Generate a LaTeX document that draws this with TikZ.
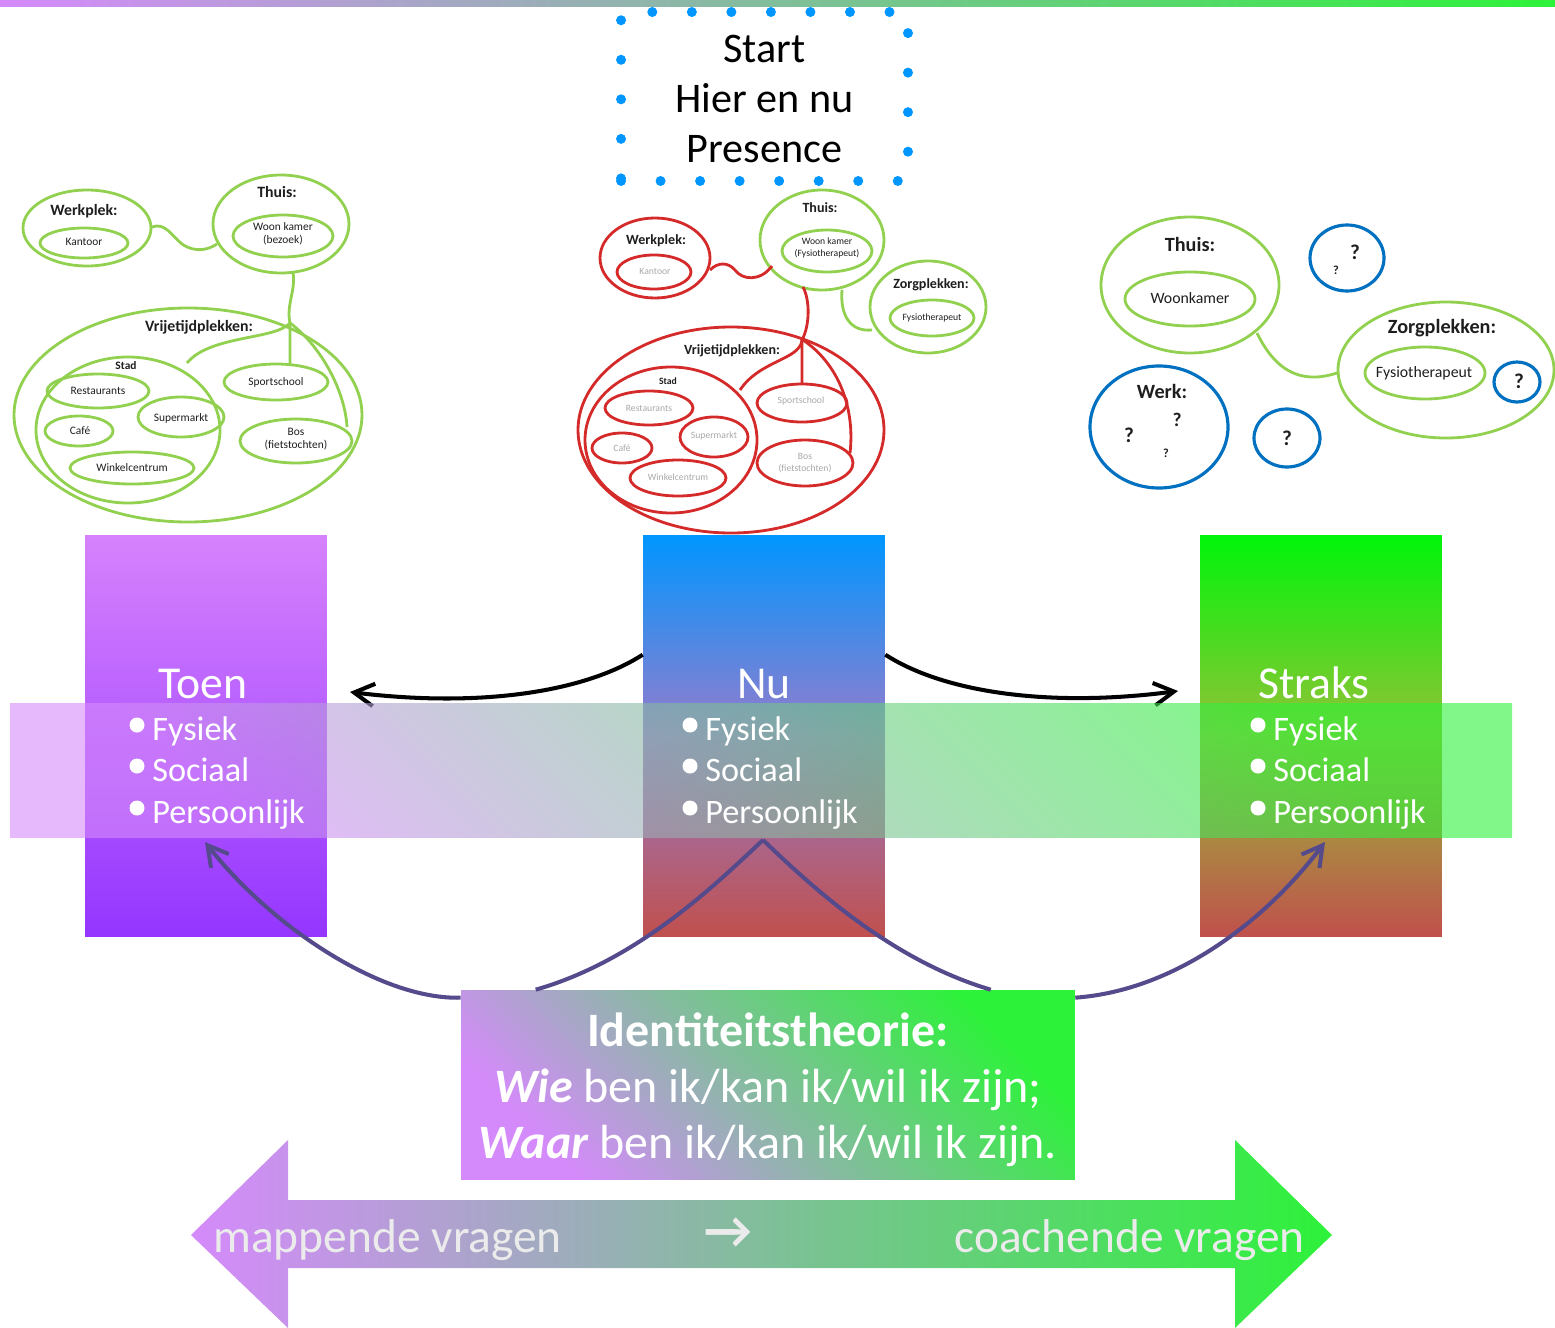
\documentclass[tikz,border=0pt]{standalone}
\usepackage{fontspec}
\setmainfont{Carlito}
\newfontfamily\arrowfont{DejaVu Sans}
\usetikzlibrary{calc, arrows.meta}

\begin{document}
\begin{tikzpicture}[x=0.02cm, y=-0.02cm,
    mapGreen/.style={draw=mapGreenColour, line width=1.6pt},
    mapRed/.style={draw=mapRedColour, line width=1.6pt},
    mapBlue/.style={draw=mapBlueColour, line width=1.8pt},
    mapLabel/.style={font=\fontsize{#1}{#1}\selectfont\bfseries, text=labelColour, inner sep=0pt},
    mapLabel/.default=9,
    mapText/.style={font=\fontsize{#1}{#1}\selectfont, text=labelColour, align=center, inner sep=0pt},
    mapText/.default=6.5,
    column/.style={minimum width=4.84cm, minimum height=8.04cm, inner sep=0pt},
    colTitle/.style={font=\fontsize{26}{31}\selectfont, text=white, anchor=base, inner sep=0pt},
    colItem/.style={font=\fontsize{19.5}{23}\selectfont, text=white, anchor=base west, inner sep=0pt},
    bigText/.style={font=\fontsize{27}{32}\selectfont, text=arrowTextColour, inner sep=0pt},
    flow/.style={line width=2.3pt, -{Straight Barb[length=4mm, width=4.5mm]}},
    link/.style={draw=linkColour, line width=2.3pt}]

    % Define colours
    \definecolor{purpleEnd}{HTML}{D58AFB}
    \definecolor{greenEnd}{HTML}{2DF23A}
    \definecolor{toenTop}{HTML}{D682FD}
    \definecolor{toenBottom}{HTML}{9436FF}
    \definecolor{nuTop}{HTML}{0096FF}
    \definecolor{nuMiddle}{RGB}{150,124,203}
    \definecolor{straksTop}{HTML}{00F50A}
    \definecolor{straksMiddle}{RGB}{149,193,55}
    \definecolor{warmBottom}{HTML}{C0504D}
    \definecolor{mapGreenColour}{HTML}{92D050}
    \definecolor{mapRedColour}{HTML}{D42A2A}
    \definecolor{mapBlueColour}{HTML}{0070C0}
    \definecolor{dotColour}{HTML}{0096FF}
    \definecolor{labelColour}{HTML}{1E1E1E}
    \definecolor{fadedColour}{HTML}{A8A8A8}
    \definecolor{linkColour}{HTML}{554A8C}
    \definecolor{arrowTextColour}{HTML}{EBEBEB}

    % Fix the canvas
    \useasboundingbox (0,0) rectangle (1555,1328);

    % Top bar
    \shade[left color=purpleEnd, right color=greenEnd] (0,0) rectangle (1555,7);

    % Start box
    \node[draw=dotColour, line width=5.7pt, line cap=round, dash pattern=on 0pt off 22.5pt,
          minimum width=5.74cm, minimum height=3.38cm, align=center,
          font=\fontsize{24}{28.5}\selectfont] (start) at (764.5,96.5) {};
    \node[align=center, font=\fontsize{24}{28.5}\selectfont] (startText) at (764.5,99)
          {Start\\Hier en nu\\Presence};

    % Map: toen
    \draw[mapGreen] (87,228) ellipse [x radius=64, y radius=38];
    \draw[mapGreen] (84,243) ellipse [x radius=44, y radius=15];
    \draw[mapGreen] (281,224) ellipse [x radius=68, y radius=49];
    \draw[mapGreen] (283,236) ellipse [x radius=50, y radius=21];
    \draw[mapGreen] (188,415) ellipse [x radius=174, y radius=107];
    \draw[mapGreen] (128,430) ellipse [x radius=92, y radius=73];
    \draw[mapGreen] (98,391) ellipse [x radius=51, y radius=17];
    \draw[mapGreen] (181,417) ellipse [x radius=43, y radius=20];
    \draw[mapGreen] (79,431) ellipse [x radius=34, y radius=15];
    \draw[mapGreen] (132,468) ellipse [x radius=62, y radius=16];
    \draw[mapGreen] (276,382) ellipse [x radius=52, y radius=18];
    \draw[mapGreen] (296,441) ellipse [x radius=56, y radius=22];
    \draw[mapGreen] (152,227) .. controls (165,222) and (172,236) .. (182,244)
        .. controls (195,253) and (208,250) .. (217,244);
    \draw[mapGreen] (293,273) .. controls (296,290) and (286,305) .. (290,323) -- (290,365);
    \draw[mapGreen] (290,323) .. controls (275,340) and (210,335) .. (187,363);
    \draw[mapGreen] (290,323) .. controls (320,345) and (345,390) .. (347,427);

    \node[mapLabel] (leftWerk) at (84,211) {Werkplek:};
    \node[mapText] (leftKantoor) at (84,242) {Kantoor};
    \node[mapLabel] (leftThuis) at (277,192) {Thuis:};
    \node[mapText] (leftWoon) at (283,234) {Woon kamer\\[1pt](bezoek)};
    \node[mapLabel] (leftVrij) at (199,327) {Vrijetijdplekken:};
    \node[mapLabel=6.5] (leftStad) at (126,366) {Stad};
    \node[mapText] (leftRest) at (98,391) {Restaurants};
    \node[mapText] (leftSuper) at (181,418) {Supermarkt};
    \node[mapText] (leftCafe) at (80,431) {Café};
    \node[mapText] (leftWinkel) at (132,468) {Winkelcentrum};
    \node[mapText] (leftSport) at (276,382) {Sportschool};
    \node[mapText] (leftBos) at (296,439) {Bos\\[1pt](fietstochten)};

    % Map: nu
    \draw[mapRed] (655,258) ellipse [x radius=55, y radius=40];
    \draw[mapRed] (654,272) ellipse [x radius=37, y radius=17];
    \draw[mapGreen] (822,240) ellipse [x radius=62, y radius=50];
    \draw[mapGreen] (827,251) ellipse [x radius=45, y radius=21];
    \draw[mapGreen] (928,307) ellipse [x radius=58, y radius=46];
    \draw[mapGreen] (932,318) ellipse [x radius=42, y radius=18];
    \draw[mapRed] (731,430) ellipse [x radius=153, y radius=103];
    \draw[mapRed] (671,440) ellipse [x radius=86, y radius=73];
    \draw[mapRed] (649,408) ellipse [x radius=44, y radius=17];
    \draw[mapRed] (714,437) ellipse [x radius=34, y radius=20];
    \draw[mapRed] (622,448) ellipse [x radius=30, y radius=15];
    \draw[mapRed] (678,478) ellipse [x radius=48, y radius=18];
    \draw[mapRed] (802,403) ellipse [x radius=45, y radius=19];
    \draw[mapRed] (805,463) ellipse [x radius=48, y radius=23];
    \draw[mapRed] (710,270) .. controls (718,262) and (728,262) .. (735,270)
        .. controls (742,280) and (760,282) .. (772,266);
    \draw[mapGreen] (842,290) .. controls (840,315) and (850,332) .. (872,330);
    \draw[mapRed] (803,287) .. controls (810,300) and (810,325) .. (802,340) -- (802,384);
    \draw[mapRed] (802,340) .. controls (800,360) and (760,360) .. (740,390);
    \draw[mapRed] (803,340) .. controls (840,365) and (855,410) .. (850,453);

    \node[mapLabel=8] (midWerk) at (656,241) {Werkplek:};
    \node[mapText=5.5, text=fadedColour] (midKantoor) at (655,271) {Kantoor};
    \node[mapLabel=8] (midThuis) at (820,208) {Thuis:};
    \node[mapText=5.5] (midWoon) at (827,248) {Woon kamer\\[1pt](Fysiotherapeut)};
    \node[mapLabel=8] (midZorg) at (931,285) {Zorgplekken:};
    \node[mapText=5.5] (midFysio) at (932,318) {Fysiotherapeut};
    \node[mapLabel=8] (midVrij) at (732,351) {Vrijetijdplekken:};
    \node[mapLabel=5.5] (midStad) at (668,381) {Stad};
    \node[mapText=5.5, text=fadedColour] (midRest) at (649,408) {Restaurants};
    \node[mapText=5.5, text=fadedColour] (midSuper) at (714,436) {Supermarkt};
    \node[mapText=5.5, text=fadedColour] (midCafe) at (622,448) {Café};
    \node[mapText=5.5, text=fadedColour] (midWinkel) at (678,477) {Winkelcentrum};
    \node[mapText=5.5, text=fadedColour] (midSport) at (801,401) {Sportschool};
    \node[mapText=5.5, text=fadedColour] (midBos) at (805,463) {Bos\\[1pt](fietstochten)};

    % Map: straks
    \draw[mapGreen] (1190,285) ellipse [x radius=89, y radius=68];
    \draw[mapGreen] (1190,299) ellipse [x radius=65, y radius=27];
    \draw[mapGreen] (1446,370) ellipse [x radius=108, y radius=68];
    \draw[mapGreen] (1425,373) ellipse [x radius=60, y radius=26];
    \draw[mapBlue] (1347,258) ellipse [x radius=37, y radius=33];
    \draw[mapBlue] (1517,382) ellipse [x radius=23, y radius=20];
    \draw[mapBlue] (1159,427) ellipse [x radius=69, y radius=61];
    \draw[mapBlue] (1287,438) ellipse [x radius=33, y radius=29];
    \draw[mapGreen] (1257,333) .. controls (1275,370) and (1300,385) .. (1337,373);

    \node[mapLabel=11.5] (rightThuis) at (1190,244) {Thuis:};
    \node[mapText=9] (rightWoon) at (1190,298) {Woonkamer};
    \node[mapLabel=11.5] (rightZorg) at (1442,328) {Zorgplekken:};
    \node[mapText=9] (rightFysio) at (1424,373) {Fysiotherapeut};
    \node[mapLabel=11.5] (rightWerk) at (1162,391) {Werk:};
    \node[mapLabel=12] (qa) at (1355,252) {?};
    \node[mapLabel=7] (qb) at (1336,270) {?};
    \node[mapLabel=12] (qc) at (1519,381) {?};
    \node[mapLabel=11] (qd) at (1177,420) {?};
    \node[mapLabel=12] (qe) at (1129,435) {?};
    \node[mapLabel=7] (qf) at (1166,453) {?};
    \node[mapLabel=12] (qg) at (1287,438) {?};

    % Columns
    \node[column, top color=toenTop, bottom color=toenBottom] (toen) at (206,736) {};
    \node[column, top color=nuTop, bottom color=warmBottom, middle color=nuMiddle] (nu) at (764,736) {};
    \node[column, top color=straksTop, bottom color=warmBottom, middle color=straksMiddle] (straks) at (1321,736) {};

    % Arrows from now
    \coordinate (toenTip) at (350,692);
    \coordinate (straksTip) at (1178,691);
    \draw[flow] ($(nu.north west)+(0,120)$) .. controls (585,692) and (480,708) .. (toenTip);
    \draw[flow] ($(nu.north east)+(0,120)$) .. controls (943,692) and (1048,708) .. (straksTip);

    % Band
    \shade[top color=greenEnd, bottom color=purpleEnd, shading angle=-45, fill opacity=0.6]
        (10,703) rectangle (1512,837);

    % Column texts
    \node[colTitle] (toenTitle) at (203,698) {Toen};
    \node[colTitle] (nuTitle) at (764,698) {Nu};
    \node[colTitle] (straksTitle) at (1314,698) {Straks};
    \foreach \col/\bx in {toen/137, nu/690, straks/1258} {
        \foreach \item/\by [count=\i] in {Fysiek/740, Sociaal/781, Persoonlijk/823} {
            \fill[white] (\bx,\by-15) circle [radius=7.5];
            \node[colItem] (\col-\i) at (\bx+15,\by) {\item};
        }
    }

    % Identity box
    \node[minimum width=12.28cm, minimum height=3.8cm, inner sep=0pt,
          top color=greenEnd, bottom color=purpleEnd, shading angle=-45] (idbox) at (768,1085) {};
    \node[text=white, align=center, font=\fontsize{27.3}{32}\selectfont] (idText) at (768,1090)
          {\textbf{Identiteitstheorie:}\\\textbf{\textit{Wie}} ben ik/kan ik/wil ik zijn;\\\textbf{\textit{Waar}} ben ik/kan ik/wil ik zijn.};

    % Links to the box
    \coordinate (toenIn) at (205,842);
    \coordinate (nuIn) at (763,840);
    \coordinate (straksIn) at (1325,842);
    \draw[link, -{Straight Barb[length=4mm, width=4.5mm]}] ($(idbox.north west)+(0,8)$)
        .. controls (380,1000) and (270,925) .. (toenIn);
    \draw[link] ($(idbox.north west)+(75,0)$) .. controls (640,960) and (720,880) .. (nuIn);
    \draw[link] (nuIn) .. controls (810,885) and (890,960) .. ($(idbox.north west)+(530,0)$);
    \draw[link, -{Straight Barb[length=4mm, width=4.5mm]}] ($(idbox.north east)+(0,8)$)
        .. controls (1180,990) and (1270,915) .. (straksIn);

    % Question arrow
    \shade[left color=purpleEnd, right color=greenEnd] (191,1235) -- (288,1140) -- (288,1200)
        -- (1235,1200) -- (1235,1140) -- (1332,1235) -- (1235,1328) -- (1235,1268)
        -- (288,1268) -- (288,1328) -- cycle;
    \node[bigText, anchor=base west] (mapping) at (213,1252) {mappende vragen};
    \node[bigText, anchor=base east] (coaching) at (1305,1252) {coachende vragen};
    \node[bigText, font=\bfseries\fontsize{30}{34}\selectfont] (towards) at (728,1233) {→};

\end{tikzpicture}
\end{document}
